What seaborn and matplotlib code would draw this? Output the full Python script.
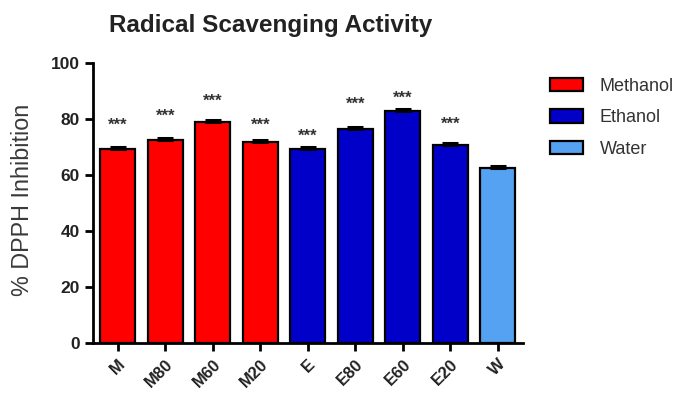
import matplotlib
matplotlib.use("Agg")
import matplotlib.pyplot as plt
import seaborn as sns
import pandas as pd
import numpy as np

# Extract labels, solvent groups, mean inhibition and SEM
samples = ["M", "M80", "M60", "M20", "E", "E80", "E60", "E20", "W"]
solvents = ["Methanol", "Methanol", "Methanol", "Methanol",
            "Ethanol", "Ethanol", "Ethanol", "Ethanol", "Water"]
inhibition = [69.4, 72.6, 78.9, 71.8, 69.2, 76.5, 82.7, 70.6, 62.6]
sem = [0.8, 0.8, 0.8, 0.7, 0.8, 0.7, 0.8, 0.8, 0.8]
significance = ["***", "***", "***", "***", "***", "***", "***", "***", ""]
star_y = [77.8, 81.0, 86.4, 77.8, 73.9, 85.3, 87.5, 78.2, 0]

palette = {"Methanol": "#FF0000", "Ethanol": "#0000C8", "Water": "#55A2F2"}

df = pd.DataFrame({"Sample": samples, "Solvent": solvents,
                   "Inhibition": inhibition, "SEM": sem})

sns.set_style("ticks")
plt.rcParams["font.family"] = ["Liberation Sans", "DejaVu Sans"]

fig = plt.figure(figsize=(6.95, 3.98), dpi=100)
ax = fig.add_axes([0.1338, 0.1374, 0.6187, 0.7043])

sns.barplot(data=df, x="Sample", y="Inhibition", hue="Solvent",
            palette=palette, saturation=1, dodge=False, width=0.74,
            errorbar=None, edgecolor="black", linewidth=1.6, ax=ax, zorder=2)

xpos = np.arange(len(samples))
ax.errorbar(xpos, inhibition, yerr=[np.zeros(len(sem)), sem], fmt="none",
            ecolor="black", elinewidth=1.5, capsize=6, capthick=2.2, zorder=3)

for x, s, y in zip(xpos, significance, star_y):
    if s:
        ax.text(x, y, s, ha="center", va="center", fontsize=12,
                color="#333333", fontweight="bold")

ax.set_xlim(-0.52, 8.53)
ax.set_ylim(0, 100)
ax.set_yticks([0, 20, 40, 60, 80, 100])
ax.set_xlabel("")
ax.set_ylabel("% DPPH Inhibition", fontsize=16.8, color="#3a3a3a")
ax.yaxis.set_label_coords(-0.138, 0.51)

fig.text(0.389, 0.935, "Radical Scavenging Activity", fontsize=17.5,
         fontweight="bold", color="#222222", ha="center", va="center")

sns.despine(ax=ax)
for sp in ["left", "bottom"]:
    ax.spines[sp].set_linewidth(2)
    ax.spines[sp].set_color("black")
ax.tick_params(axis="both", width=2, length=6, color="black")
for lab in ax.get_yticklabels():
    lab.set_fontweight("bold")
    lab.set_fontsize(12.5)
    lab.set_color("#222222")
ax.set_xticks(xpos)
ax.set_xticklabels(samples, rotation=45, ha="right", rotation_mode="anchor",
                   fontsize=12, fontweight="bold", color="#222222")

handles, labels = ax.get_legend_handles_labels()
leg = ax.legend(handles, labels, loc="upper left",
                bbox_to_anchor=(0.768, 0.845), bbox_transform=fig.transFigure,
                frameon=False, fontsize=13, handlelength=1.85,
                handleheight=0.75, labelspacing=0.8, handletextpad=0.9)
for t in leg.get_texts():
    t.set_color("#333333")

fig.savefig("out.png", dpi=100)
